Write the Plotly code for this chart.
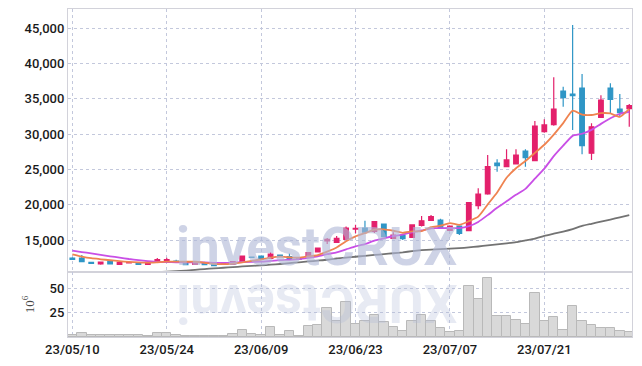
import plotly.graph_objects as go

dates = ['2023-05-10','2023-05-11','2023-05-12','2023-05-15','2023-05-16','2023-05-17','2023-05-18','2023-05-19','2023-05-22','2023-05-23',
         '2023-05-24','2023-05-25','2023-05-26','2023-05-30','2023-05-31','2023-06-01','2023-06-02','2023-06-05','2023-06-07','2023-06-08',
         '2023-06-09','2023-06-12','2023-06-13','2023-06-14','2023-06-15','2023-06-16','2023-06-19','2023-06-20','2023-06-21','2023-06-22',
         '2023-06-23','2023-06-26','2023-06-27','2023-06-28','2023-06-29','2023-06-30','2023-07-03','2023-07-04','2023-07-05','2023-07-06',
         '2023-07-07','2023-07-10','2023-07-11','2023-07-12','2023-07-13','2023-07-14','2023-07-17','2023-07-18','2023-07-19','2023-07-20',
         '2023-07-21','2023-07-24','2023-07-25','2023-07-26','2023-07-27','2023-07-28','2023-07-31','2023-08-01','2023-08-02','2023-08-03']

open_ = [12450, 12450, 11850, 11620, 11930, 11560, 11770, 11790, 11560, 11880,
         11930, 12020, 11840, 11560, 11740, 11640, 11550, 11560, 11930, 12570,
         12730, 12400, 12870, 12640, 12500, 12640, 13300, 14860, 14670, 15100,
         16550, 16700, 16230, 17270, 15240, 15660, 15380, 17080, 17790, 17830,
         16370, 16980, 16320, 19860, 21520, 25910, 25390, 25770, 27610, 26240,
         30350, 31340, 36110, 35690, 36540, 27300, 32390, 36540, 33560, 33610]
high = [12550, 12880, 11900, 11900, 11960, 11860, 11850, 11820, 11860, 12450,
        12500, 12210, 11870, 11870, 11780, 11680, 11750, 12000, 12800, 12650,
        12780, 13260, 12900, 13100, 12550, 13250, 13950, 15300, 15570, 16900,
        17170, 17730, 17650, 17350, 16100, 15700, 17200, 18400, 18540, 18000,
        17050, 17000, 20400, 22330, 27040, 26440, 27850, 27850, 27850, 31860,
        32100, 38050, 36720, 45470, 38520, 31540, 35500, 37200, 35690, 34270]
low = [12200, 11880, 11650, 11480, 11560, 11500, 11720, 11520, 11520, 11850,
       11900, 11800, 11460, 11520, 11460, 11330, 11520, 11450, 11900, 12450,
       12280, 12350, 12600, 12270, 12230, 12600, 13250, 14450, 14600, 15050,
       15950, 16050, 16000, 15400, 15150, 15000, 15300, 16900, 17750, 16700,
       16300, 15700, 16250, 19350, 21400, 24680, 25300, 25700, 25390, 26150,
       30200, 31200, 33890, 30590, 27140, 26340, 32300, 32950, 32470, 31050]
close = [12250, 11930, 11700, 11880, 11600, 11840, 11800, 11560, 11840, 12210,
         12210, 11840, 11500, 11840, 11500, 11360, 11700, 11930, 12730, 12520,
         12300, 13020, 12640, 12300, 12270, 13200, 13870, 15100, 15240, 16700,
         16650, 16130, 17600, 15470, 15710, 15180, 17130, 17730, 18300, 16800,
         16980, 15950, 20290, 21520, 25390, 25530, 26340, 27040, 26660, 31150,
         31300, 33560, 35160, 35450, 28360, 31050, 34840, 34940, 33040, 34030]

ma5 = [12950, 12650, 12420, 12270, 12130, 12000, 11900, 11830, 11790, 11850,
       11924, 11932, 11920, 11920, 11778, 11608, 11580, 11666, 11844, 12048,
       12236, 12500, 12642, 12556, 12506, 12686, 12856, 13348, 13936, 14822,
       15512, 15964, 16464, 16510, 16312, 16018, 16218, 16244, 16810, 17028,
       17388, 17152, 17664, 18308, 20026, 21736, 23814, 25164, 26192, 27344,
       28498, 29942, 31566, 33324, 32766, 32716, 32972, 32928, 32446, 33580]
ma10 = [13480, 13290, 13110, 12900, 12690, 12500, 12310, 12160, 12020, 11900,
        11857, 11848, 11828, 11824, 11814, 11766, 11756, 11793, 11882, 11913,
        11922, 12040, 12154, 12200, 12277, 12461, 12678, 12995, 13246, 13664,
        14099, 14410, 14906, 15223, 15567, 15765, 16091, 16354, 16660, 16670,
        16703, 16685, 16954, 17559, 18527, 19562, 20483, 21414, 22250, 23685,
        25117, 26878, 28365, 29758, 30055, 30607, 31457, 32247, 32885, 33173]
ma60 = [None, None, None, None, None, None, None, None, None, 10450,
        10520, 10590, 10660, 10780, 10880, 10980, 11070, 11160, 11250, 11330,
        11400, 11500, 11600, 11720, 11840, 11960, 12080, 12200, 12380, 12500,
        12630, 12760, 12880, 13000, 13120, 13250, 13420, 13560, 13650, 13720,
        13780, 13850, 13950, 14080, 14230, 14380, 14530, 14700, 14950, 15200,
        15600, 15900, 16200, 16550, 17000, 17300, 17600, 17900, 18200, 18520]

volume = [1.8, 4.5, 2.1, 2, 2, 2, 2, 2, 1, 4.5,
          4.5, 2, 1, 1, 1, 1, 1, 3.5, 7.6, 3.5,
          2, 10.7, 2.3, 5.9, 1.3, 11, 12.1, 29.4, 16.3, 35.6,
          13.9, 16.3, 22.5, 15.2, 10, 6.2, 16.3, 22.5, 16.3, 9,
          5.2, 5.9, 52.5, 39, 60.5, 21.4, 21.4, 17.3, 13.2, 44.9,
          16.3, 20.7, 6.9, 31.8, 16.3, 12.1, 9, 9, 5.9, 4.9]

tick_dates = ['2023-05-10', '2023-05-24', '2023-06-09', '2023-06-23', '2023-07-07', '2023-07-21']
tick_labels = ['23/05/10', '23/05/24', '23/06/09', '23/06/23', '23/07/07', '23/07/21']
price_ticks = [15000, 20000, 25000, 30000, 35000, 40000, 45000]
vol_ticks = [25, 50]

RED = '#e3206b'
BLUE = '#2f96c6'
GRID = '#c3c8dc'
AXLINE = '#d2d2da'
TICKFONT = dict(family='Roboto, sans-serif', size=13, color='#1a1a1a', weight=500)

fig = go.Figure()

fig.add_trace(go.Bar(x=dates, y=volume, xaxis='x', yaxis='y2',
                     marker=dict(color='#d9d9d9', line=dict(color='#b9b9b9', width=1)),
                     showlegend=False, hoverinfo='skip'))

fig.add_trace(go.Candlestick(x=dates, open=open_, high=high, low=low, close=close,
                             xaxis='x', yaxis='y', whiskerwidth=0,
                             increasing=dict(line=dict(color=RED, width=1.2), fillcolor=RED),
                             decreasing=dict(line=dict(color=BLUE, width=1.2), fillcolor=BLUE),
                             showlegend=False))

fig.add_trace(go.Scatter(x=dates, y=ma60, mode='lines', line=dict(color='#737373', width=1.8, shape='spline', smoothing=0.5),
                         xaxis='x', yaxis='y', showlegend=False, connectgaps=False))
fig.add_trace(go.Scatter(x=dates, y=ma10, mode='lines', line=dict(color='#c94fe6', width=1.8, shape='spline', smoothing=0.5),
                         xaxis='x', yaxis='y', showlegend=False))
fig.add_trace(go.Scatter(x=dates, y=ma5, mode='lines', line=dict(color='#ef8350', width=1.8, shape='spline', smoothing=0.5),
                         xaxis='x', yaxis='y', showlegend=False))

vol_frac = 65 / 328

fig.update_layout(
    width=642, height=366,
    margin=dict(l=68, r=10, t=9, b=29, autoexpand=False),
    paper_bgcolor='white', plot_bgcolor='white',
    bargap=0,
    xaxis=dict(type='category', categoryorder='array', categoryarray=dates,
               range=[-0.46, 59.29], anchor='y2', automargin=False,
               tickmode='array', tickvals=tick_dates, ticktext=tick_labels,
               tickfont=TICKFONT, ticks='', ticklen=0,
               showgrid=True, gridcolor=GRID, griddash='dot', gridwidth=1,
               showline=True, linecolor=AXLINE, linewidth=1, mirror='all',
               rangeslider=dict(visible=False), zeroline=False),
    yaxis=dict(domain=[vol_frac, 1], range=[10466, 47733], automargin=False,
               tickmode='array', tickvals=price_ticks, tickformat=',d',
               tickfont=TICKFONT, ticks='',
               showgrid=True, gridcolor=GRID, griddash='dot', gridwidth=1,
               showline=True, linecolor=AXLINE, linewidth=1, mirror=True, zeroline=False),
    yaxis2=dict(domain=[0, vol_frac], range=[0, 67], automargin=False,
                tickmode='array', tickvals=vol_ticks,
                tickfont=TICKFONT, ticks='',
                showgrid=True, gridcolor=GRID, griddash='dot', gridwidth=1,
                showline=True, linecolor=AXLINE, linewidth=1, mirror=True, zeroline=False,
                title=dict(text='10<sup>6</sup>', font=dict(family='Liberation Serif, DejaVu Serif, serif', size=13, color='#444444'),
                           standoff=12)),
    annotations=[
        dict(text='investCRUX', xref='paper', yref='paper', x=0.441, y=0.175,
             xanchor='center', yanchor='bottom', showarrow=False,
             font=dict(family='Roboto, sans-serif', size=53, color='rgba(176,184,214,0.62)', weight='bold'),
             ),
        dict(text='XURCtsevni', xref='paper', yref='paper', x=0.441, y=0.205,
             xanchor='center', yanchor='top', showarrow=False, textangle=180,
             font=dict(family='Roboto, sans-serif', size=53, color='rgba(176,184,214,0.3)', weight='bold'),
             ),
    ],
)

fig.write_html('out.html', config={'displayModeBar': False},
               post_script="document.body.style.margin='0';document.body.style.overflow='hidden';")
